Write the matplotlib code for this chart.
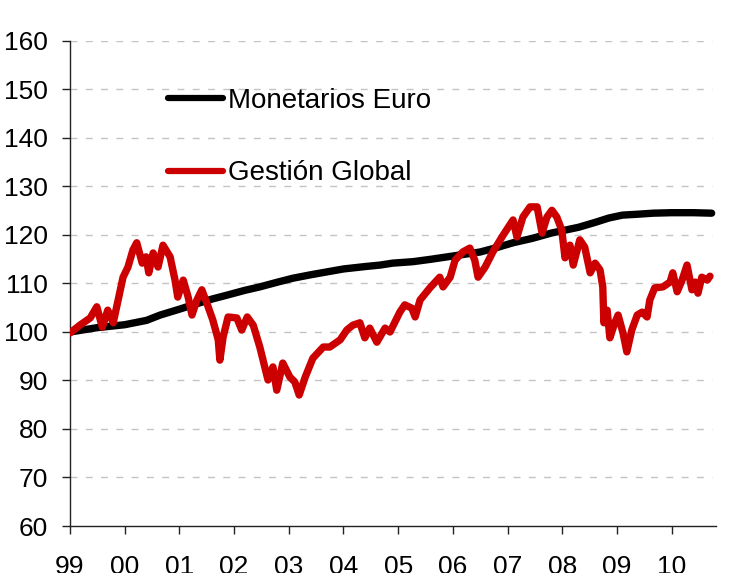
import matplotlib
matplotlib.use("Agg")
import matplotlib.pyplot as plt

# Monetarios Euro (black)
t_mon = [1999.00, 1999.50, 2000.00, 2000.40, 2000.65, 2001.00, 2001.25, 2001.60,
         2001.87, 2002.20, 2002.47, 2002.80, 2003.08, 2003.40, 2003.70, 2004.00,
         2004.40, 2004.67, 2004.90, 2005.27, 2005.60, 2005.90, 2006.20, 2006.50,
         2006.80, 2007.10, 2007.45, 2007.80, 2008.05, 2008.30, 2008.60, 2008.85,
         2009.10, 2009.40, 2009.66, 2010.00, 2010.40, 2010.73]
v_mon = [100.0, 100.9, 101.5, 102.4, 103.5, 104.7, 105.6, 106.8,
         107.6, 108.6, 109.3, 110.3, 111.1, 111.8, 112.4, 113.0,
         113.5, 113.8, 114.2, 114.5, 115.0, 115.5, 116.0, 116.5,
         117.4, 118.4, 119.3, 120.4, 121.0, 121.6, 122.6, 123.5,
         124.1, 124.3, 124.5, 124.6, 124.6, 124.5]

# Gestión Global (red)
t_gg = [1999.00, 1999.18, 1999.37, 1999.49, 1999.59, 1999.69, 1999.79, 1999.88,
        1999.97, 2000.06, 2000.15, 2000.22, 2000.32, 2000.39, 2000.44, 2000.52,
        2000.61, 2000.70, 2000.83, 2000.92, 2000.97, 2001.07, 2001.16, 2001.23,
        2001.32, 2001.41, 2001.50, 2001.61, 2001.71, 2001.74, 2001.80, 2001.89,
        2002.05, 2002.14, 2002.24, 2002.35, 2002.47, 2002.56, 2002.62, 2002.71,
        2002.78, 2002.89, 2003.02, 2003.11, 2003.19, 2003.30, 2003.44, 2003.63,
        2003.75, 2003.94, 2004.06, 2004.17, 2004.30, 2004.39, 2004.48, 2004.61,
        2004.76, 2004.85, 2005.03, 2005.12, 2005.25, 2005.31, 2005.40, 2005.58,
        2005.76, 2005.82, 2005.95, 2006.04, 2006.18, 2006.31, 2006.40, 2006.46,
        2006.59, 2006.73, 2006.92, 2007.10, 2007.17, 2007.28, 2007.41, 2007.54,
        2007.63, 2007.72, 2007.81, 2007.90, 2007.99, 2008.05, 2008.14, 2008.20,
        2008.32, 2008.41, 2008.51, 2008.60, 2008.69, 2008.74, 2008.76, 2008.82,
        2008.87, 2008.96, 2009.02, 2009.11, 2009.18, 2009.27, 2009.37, 2009.46,
        2009.55, 2009.60, 2009.69, 2009.84, 2009.97, 2010.02, 2010.10, 2010.19,
        2010.28, 2010.37, 2010.43, 2010.48, 2010.55, 2010.65, 2010.70]
v_gg = [99.8, 101.4, 102.9, 105.2, 101.0, 104.5, 101.9, 106.6,
        111.3, 113.4, 116.9, 118.4, 114.2, 115.5, 112.2, 116.3,
        113.4, 117.9, 115.5, 110.7, 107.2, 110.7, 107.2, 103.5,
        106.6, 108.7, 106.0, 102.5, 98.4, 94.2, 99.0, 103.1,
        102.9, 100.4, 103.1, 101.4, 96.9, 92.8, 90.1, 92.8,
        88.0, 93.6, 90.7, 89.7, 87.0, 90.7, 94.6, 96.9,
        96.9, 98.4, 100.4, 101.4, 101.9, 98.8, 100.8, 97.9,
        100.8, 100.0, 104.1, 105.6, 104.9, 103.1, 106.6, 109.1,
        111.3, 109.3, 111.3, 114.8, 116.5, 117.3, 114.8, 111.3,
        113.4, 116.5, 120.0, 123.1, 119.6, 123.7, 125.8, 125.8,
        120.4, 123.7, 125.1, 123.7, 121.0, 115.3, 117.9, 113.8,
        119.0, 117.5, 112.2, 114.2, 112.8, 109.3, 101.9, 104.5,
        98.8, 101.9, 103.5, 99.8, 95.9, 100.4, 103.5, 104.1,
        103.1, 106.6, 109.1, 109.3, 110.3, 112.2, 108.3, 110.7,
        113.8, 108.7, 110.3, 108.0, 111.3, 110.7, 111.5]

year_ticks = list(range(1999, 2011))
year_labels = ["99", "00", "01", "02", "03", "04", "05", "06", "07", "08", "09", "10"]
y_ticks = list(range(60, 161, 10))

plt.rcParams['font.family'] = ['Liberation Sans', 'DejaVu Sans']

W, H = 731, 573
fig = plt.figure(figsize=(W / 100, H / 100), dpi=100)
ax = fig.add_axes([70 / W, 1 - 526 / H, 646 / W, 485 / H])

ax.plot(t_mon, v_mon, color='black', lw=5.3, solid_capstyle='round',
        solid_joinstyle='round', label='Monetarios Euro', zorder=3)
ax.plot(t_gg, v_gg, color='#cc0000', lw=5.3, solid_capstyle='round',
        solid_joinstyle='round', label='Gestión Global', zorder=4)

ax.set_xlim(1999.0, 2010.81)
ax.set_ylim(60, 160)
ax.set_xticks(year_ticks)
ax.set_xticklabels(year_labels)
ax.set_yticks(y_ticks)

for y in y_ticks[1:]:
    ax.plot([1999.0, 2010.74], [y, y], color='#c4c4c4', lw=1.0,
            dashes=(5, 6), zorder=1)

for s in ['top', 'right']:
    ax.spines[s].set_visible(False)
for s in ['left', 'bottom']:
    ax.spines[s].set_color('#222222')
    ax.spines[s].set_linewidth(1.0)

ax.tick_params(axis='y', direction='out', length=6, width=1.0, color='#222222',
               labelsize=19, pad=10)
ax.tick_params(axis='x', direction='out', length=6, width=1.0, color='#222222',
               labelsize=19, pad=15)

leg = ax.legend(loc='upper left', bbox_to_anchor=(0.1517, 0.903), frameon=False,
                fontsize=20, handlelength=1.98, handletextpad=0.18,
                labelspacing=1.67, borderpad=0, borderaxespad=0)
for h in leg.get_lines():
    h.set_linewidth(4.5)

fig.savefig('out.png', dpi=100)
